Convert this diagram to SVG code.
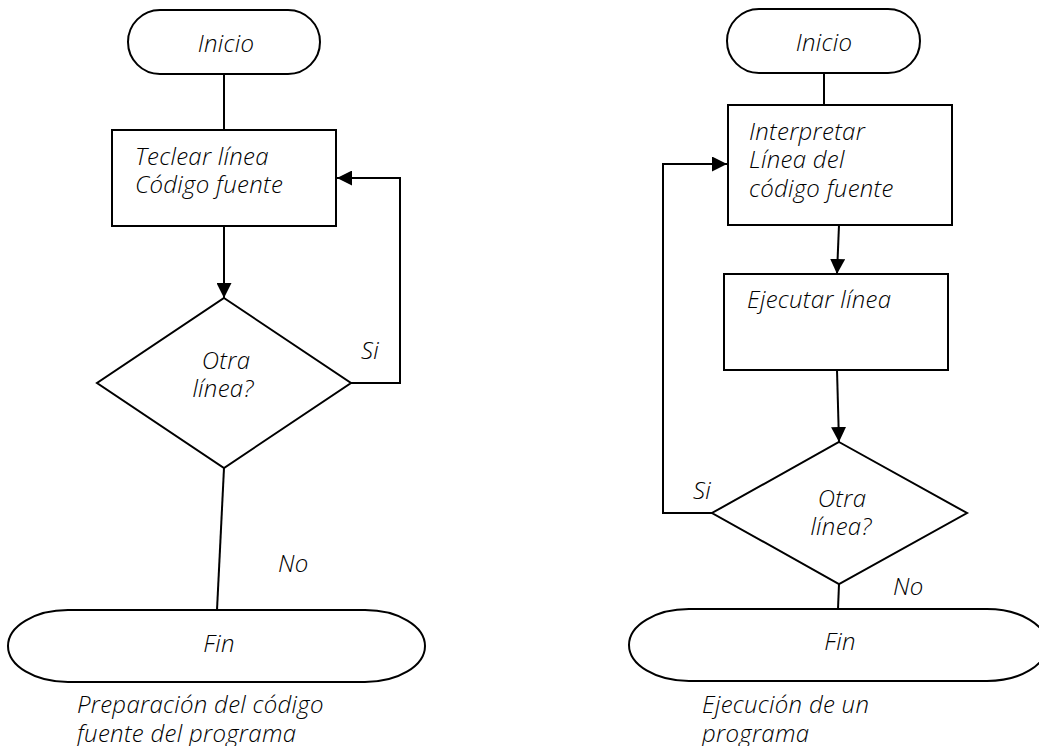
<svg xmlns="http://www.w3.org/2000/svg" width="1039" height="746" viewBox="0 0 1039 746">
  <style>
    .shape { fill: #ffffff; stroke: #000000; stroke-width: 2; }
    .edge { fill: none; stroke: #000000; stroke-width: 2; }
    text { font-family: "Open Sans", Lato, "Liberation Sans", sans-serif; font-style: italic; font-weight: 300; font-size: 24px; letter-spacing: 0.3px; fill: #000000; }
    .mid { text-anchor: middle; }
  </style>
  <defs>
    <marker id="arrow" viewBox="0 0 15 15" refX="15" refY="7.5" markerWidth="15" markerHeight="15" markerUnits="userSpaceOnUse" orient="auto">
      <path d="M0,0 L15,7.5 L0,15 Z" fill="#000000"/>
    </marker>
  </defs>
  <rect width="1039" height="746" fill="#ffffff"/>

  <!-- Left flowchart: preparing the source code -->
  <g id="left-connectors">
    <line class="edge" x1="224" y1="74" x2="224" y2="130"/>
    <line class="edge" x1="224" y1="226" x2="224" y2="298" marker-end="url(#arrow)"/>
    <polyline class="edge" points="351,383 400,383 400,178 337,178" marker-end="url(#arrow)"/>
    <line class="edge" x1="224" y1="468" x2="217" y2="610"/>
  </g>
  <g id="left-start">
    <rect class="shape" x="128" y="10" width="192" height="64" rx="32" ry="32"/>
    <text class="mid" x="226" y="52">Inicio</text>
  </g>
  <g id="left-type-line">
    <rect class="shape" x="112" y="130" width="224" height="96"/>
    <text x="135" y="165">Teclear línea</text>
    <text x="135" y="193">Código fuente</text>
  </g>
  <g id="left-decision">
    <polygon class="shape" points="224,298 351,383 224,468 97,383"/>
    <text class="mid" x="226" y="369">Otra</text>
    <text class="mid" x="223" y="397">línea?</text>
  </g>
  <g id="left-labels">
    <text x="361" y="359">Si</text>
    <text x="278" y="572">No</text>
  </g>
  <g id="left-end">
    <rect class="shape" x="8" y="610" width="417" height="72" rx="60" ry="36"/>
    <text class="mid" x="219" y="652">Fin</text>
  </g>
  <g id="left-caption">
    <text x="77" y="713">Preparación del código</text>
    <text x="77" y="742">fuente del programa</text>
  </g>

  <!-- Right flowchart: running a program -->
  <g id="right-connectors">
    <line class="edge" x1="824" y1="73" x2="824" y2="105"/>
    <line class="edge" x1="839" y1="225" x2="837" y2="274" marker-end="url(#arrow)"/>
    <line class="edge" x1="837" y1="370" x2="839" y2="442" marker-end="url(#arrow)"/>
    <polyline class="edge" points="712,513 663,513 663,164 727,164" marker-end="url(#arrow)"/>
    <line class="edge" x1="839" y1="584" x2="838" y2="609"/>
  </g>
  <g id="right-start">
    <rect class="shape" x="727" y="9" width="193" height="64" rx="32" ry="32"/>
    <text class="mid" x="824" y="51">Inicio</text>
  </g>
  <g id="right-interpret">
    <rect class="shape" x="728" y="105" width="224" height="120"/>
    <text x="749" y="140">Interpretar</text>
    <text x="749" y="168">Línea del</text>
    <text x="749" y="197">código fuente</text>
  </g>
  <g id="right-execute">
    <rect class="shape" x="724" y="274" width="224" height="96"/>
    <text x="747" y="308">Ejecutar línea</text>
  </g>
  <g id="right-decision">
    <polygon class="shape" points="839,442 967,513 839,584 712,513"/>
    <text class="mid" x="842" y="507">Otra</text>
    <text class="mid" x="841" y="535">línea?</text>
  </g>
  <g id="right-labels">
    <text x="693" y="499">Si</text>
    <text x="893" y="595">No</text>
  </g>
  <g id="right-end">
    <rect class="shape" x="629" y="609" width="418" height="72" rx="60" ry="36"/>
    <text class="mid" x="840" y="650">Fin</text>
  </g>
  <g id="right-caption">
    <text x="702" y="713">Ejecución de un</text>
    <text x="702" y="742">programa</text>
  </g>
</svg>
